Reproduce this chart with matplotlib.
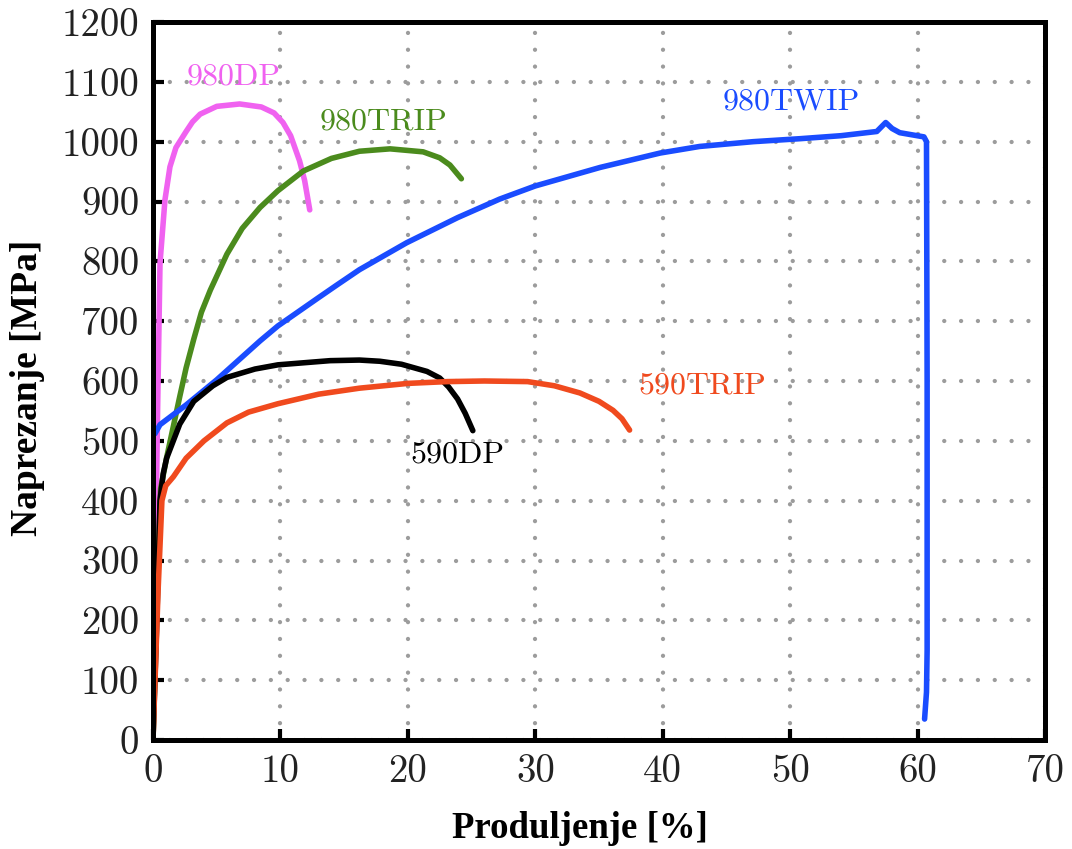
import matplotlib
matplotlib.use("Agg")
from matplotlib import pyplot as plt

# elongation [%] / stress [MPa]
dp980_x = [0, 0.2, 0.35, 0.55, 0.94, 1.33, 1.8, 2.6, 3.1, 3.7, 5, 6.8, 8.5, 9.5, 10.2, 10.8, 11.5, 11.9, 12.3]
dp980_y = [0, 300, 535, 797, 903, 958, 990, 1017, 1033, 1046, 1059, 1063, 1058, 1048, 1032, 1010, 968, 935, 886]

trip980_x = [0, 0.3, 0.6, 1.07, 2.1, 2.6, 3.2, 3.8, 4.5, 5.8, 7.0, 8.4, 9.8, 11.8, 14, 16.2, 18.6, 21.2,
             22.5, 23.3, 24.2]
trip980_y = [0, 230, 420, 472, 574, 622, 670, 715, 752, 812, 855, 890, 918, 951, 972, 984, 988, 983,
             973, 961, 938]

twip980_x = [0.15, 0.55, 2.6, 5, 8.4, 9.8, 12.9, 14.4, 16.2, 19.9, 23.9, 27.2, 30, 35.1, 39.8, 42.9,
             47.1, 50.8, 54, 56.8, 57.5, 58.0, 58.6, 60.5, 60.7, 60.75, 60.75, 60.7, 60.55]
twip980_y = [512, 527, 560, 602, 667, 692, 738, 760, 786, 831, 873, 904, 926, 957, 981, 992,
             1000, 1005, 1010, 1017, 1032, 1022, 1015, 1008, 1000, 600, 150, 80, 35]

dp590_x = [0, 0.3, 0.55, 0.8, 1.07, 2.1, 3.2, 4.7, 5.8, 8, 9.8, 13.9, 16.2, 17.8, 19.5, 21.5, 22.5,
           23.2, 23.9, 24.5, 25.1]
dp590_y = [0, 200, 400, 445, 471, 528, 566, 592, 606, 620, 627, 634, 635, 633, 628, 616, 605,
           590, 570, 546, 517]

trip590_x = [0, 0.4, 0.7, 1.0, 1.6, 2.6, 4, 5.8, 7.5, 9.8, 13, 16.2, 20, 23.1, 26, 29.4, 31.5, 33.5, 35,
             36.1, 36.8, 37.4]
trip590_y = [0, 250, 400, 425, 440, 471, 500, 530, 548, 562, 578, 588, 596, 599, 600, 599, 592, 580, 566,
             551, 537, 518]

series = [
    ("980DP", dp980_x, dp980_y, "#f062f0", (6.3, 1109)),
    ("980TRIP", trip980_x, trip980_y, "#4b8b1d", (18.1, 1033)),
    ("980TWIP", twip980_x, twip980_y, "#1a4cff", (50.1, 1067)),
    ("590DP", dp590_x, dp590_y, "#000000", (23.9, 477)),
    ("590TRIP", trip590_x, trip590_y, "#f04a1e", (43.1, 592)),
]

x_ticks = [0, 10, 20, 30, 40, 50, 60, 70]
y_ticks = list(range(0, 1300, 100))

fig = plt.figure(figsize=(10.72, 8.49), dpi=100)
ax = fig.add_axes([153/1072, 1-740/849, (1045-153)/1072, (740-22)/849])

for name, xs, ys, col, pos in series:
    ax.plot(xs, ys, color=col, lw=4, solid_joinstyle="round", solid_capstyle="round", zorder=3)
    ax.text(pos[0], pos[1], name, color=col, family="cmr10", fontsize=23,
            ha="center", va="center", zorder=4)

ax.set_xlim(0, 70)
ax.set_ylim(0, 1200)
ax.set_xticks(x_ticks)
ax.set_xticklabels([str(t) for t in x_ticks])
ax.set_yticks(y_ticks)
ax.set_yticklabels([str(t) for t in y_ticks])
for lab in ax.get_xticklabels() + ax.get_yticklabels():
    lab.set_family("cmr10")
    lab.set_fontsize(28)
    lab.set_color("#222222")
ax.tick_params(direction="in", length=8, width=3, pad=10, color="black")

ax.grid(True, color="#9c9c9c", lw=3.1, linestyle=(0, (0.01, 3.9)), dash_capstyle="round", zorder=1)
for sp in ax.spines.values():
    sp.set_linewidth(3.6)
    sp.set_zorder(5)

fig.text(28/1072, 1-388/849, "Naprezanje [MPa]", rotation=90, ha="center", va="center",
         family="Liberation Serif", weight="bold", fontsize=27)
fig.text(580/1072, 1-828/849, "Produljenje [%]", ha="center", va="center",
         family="Liberation Serif", weight="bold", fontsize=26.5)

fig.savefig("out.png", dpi=100)
